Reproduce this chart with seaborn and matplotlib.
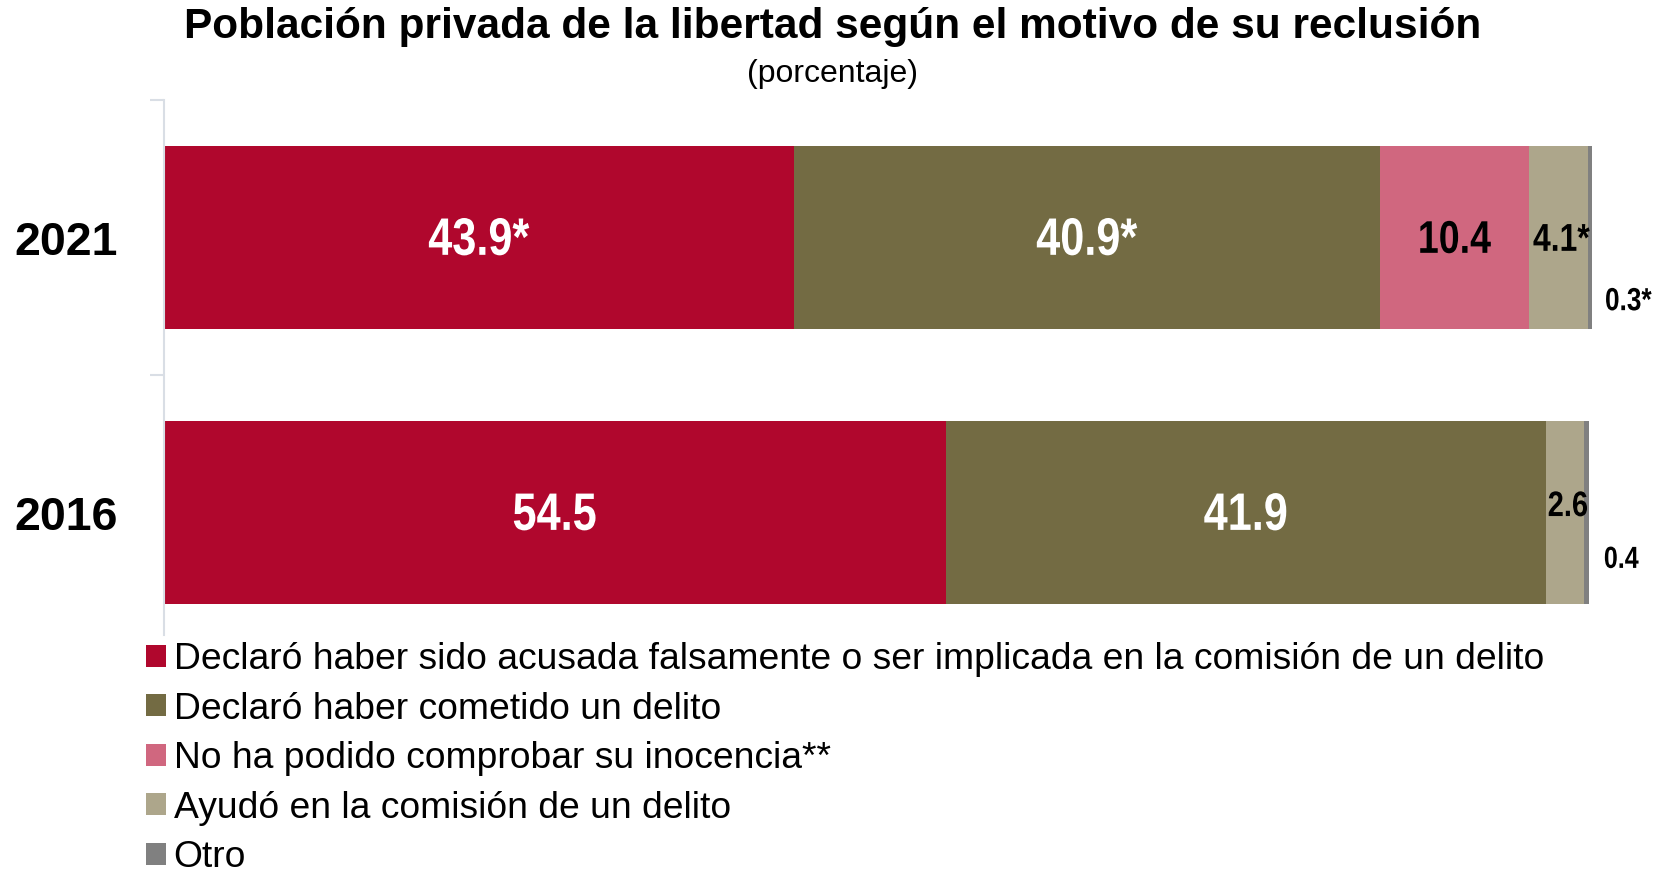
import matplotlib
matplotlib.use("Agg")
import matplotlib.pyplot as plt
from matplotlib.patches import Patch
from matplotlib.patheffects import AbstractPathEffect
from matplotlib.transforms import Affine2D
import numpy as np
import pandas as pd
import seaborn as sns

# Data
years = ["2021", "2016"]
categories = [
    "Declaró haber sido acusada falsamente o ser implicada en la comisión de un delito",
    "Declaró haber cometido un delito",
    "No ha podido comprobar su inocencia**",
    "Ayudó en la comisión de un delito",
    "Otro",
]
values_2021 = [43.9, 40.9, 10.4, 4.1, 0.3]
values_2016 = [54.5, 41.9, 0.0, 2.6, 0.4]
labels_2021 = ["43.9*", "40.9*", "10.4", "4.1*", "0.3*"]
labels_2016 = ["54.5", "41.9", "", "2.6", "0.4"]
colors = ["#B0072D", "#736B43", "#D0677F", "#ADA68B", "#808080"]

sns.set_theme(style="white")
plt.rcParams["font.family"] = ["Liberation Sans", "DejaVu Sans"]
plt.rcParams["text.color"] = "black"
plt.rcParams["ytick.labelcolor"] = "black"


class Condensed(AbstractPathEffect):
    """Draw text glyphs horizontally narrowed (narrow-face look)."""

    def __init__(self, sx=0.82, anchor="center"):
        super().__init__()
        self.sx = sx
        self.anchor = anchor

    def draw_path(self, renderer, gc, tpath, affine, rgbFace=None):
        xs = tpath.vertices[:, 0]
        if len(xs) == 0:
            return
        if self.anchor == "left":
            cx = xs.min()
        elif self.anchor == "right":
            cx = xs.max()
        else:
            cx = 0.5 * (xs.min() + xs.max())
        squeeze = Affine2D().translate(-cx, 0).scale(self.sx, 1).translate(cx, 0)
        renderer.draw_path(gc, tpath, squeeze + affine, rgbFace)


vals = np.array([values_2021, values_2016])
cum = np.cumsum(vals, axis=1)

fig = plt.figure(figsize=(16.54, 8.72), dpi=100)
ax = fig.add_axes([164 / 1654, 1 - 635 / 872, (1598 - 164) / 1654, (635 - 100) / 872])

# Stacked bars: draw cumulative totals from the outermost segment inward
for k in range(len(categories) - 1, -1, -1):
    df = pd.DataFrame({"year": years, "value": cum[:, k]})
    sns.barplot(data=df, x="value", y="year", orient="h", color=colors[k],
                saturation=1, width=0.665, ax=ax, linewidth=0)

ax.set_xlim(0, 100)
ax.set_ylim(1.445, -0.5)
ax.set_xlabel("")
ax.set_ylabel("")
ax.set_xticks([])

for s in ["top", "right", "bottom"]:
    ax.spines[s].set_visible(False)
ax.spines["left"].set_color("#D9DEE5")
ax.spines["left"].set_linewidth(1.5)

ax.set_yticks([0, 1])
ax.set_yticklabels(years, fontsize=33.5, fontweight="bold")
ax.tick_params(axis="y", which="major", length=0, pad=33)
ax.set_yticks([-0.5, 0.5], minor=True)
ax.tick_params(axis="y", which="minor", length=10, width=1.5, color="#D9DEE5", left=True)

# Value labels
all_labels = [labels_2021, labels_2016]
for i in range(len(years)):
    for k in range(len(categories)):
        txt = all_labels[i][k]
        if not txt:
            continue
        v = vals[i, k]
        center = cum[i, k] - v / 2
        if k < 2:
            ax.text(center, i + 0.012, txt, ha="center", va="center", color="white",
                    fontsize=38, fontweight="bold", path_effects=[Condensed()])
        elif k == 2:
            ax.text(center, i + 0.012, txt, ha="center", va="center", color="black",
                    fontsize=33, fontweight="bold", path_effects=[Condensed()])
        elif k == 3:
            dy = 0.012 if i == 0 else -0.022
            size = 28 if i == 0 else 25.5
            ax.text(center + 0.2, i + dy, txt, ha="center", va="center", color="black",
                    fontsize=size, fontweight="bold", path_effects=[Condensed()])
        else:
            dy = 0.235 if i == 0 else 0.172
            size = 23 if i == 0 else 22
            ax.text(cum[i, k] + (4.15 if i == 0 else 3.45), i + dy, txt,
                    ha="right", va="center", color="black",
                    fontsize=size, fontweight="bold", clip_on=False,
                    path_effects=[Condensed(anchor="right")])

# Titles
fig.text(833 / 1654, 1 - 27 / 872, "Población privada de la libertad según el motivo de su reclusión",
         ha="center", va="center", fontsize=30.5, fontweight="bold")
fig.text(833 / 1654, 1 - 74 / 872, "(porcentaje)", ha="center", va="center", fontsize=23)

# Legend
handles = [Patch(facecolor=c, edgecolor="none") for c in colors]
fig.legend(handles, categories, loc="upper left", bbox_to_anchor=(146 / 1654, 1 - 642 / 872),
           frameon=False, fontsize=26.8, handlelength=0.54, handleheight=0.54,
           handletextpad=0.2, labelspacing=0.39, borderpad=0, borderaxespad=0)

fig.savefig("out.png", dpi=100)
